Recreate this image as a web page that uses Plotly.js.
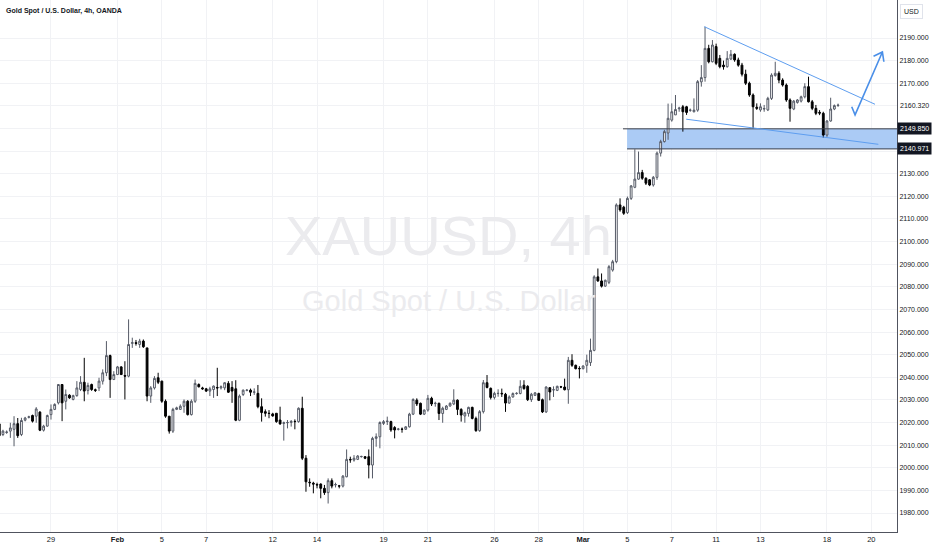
<!DOCTYPE html>
<html>
<head>
<meta charset="utf-8">
<script src="https://cdn.plot.ly/plotly-3.0.1.min.js"></script>
<style>
html,body{margin:0;padding:0;background:#fff;}
#chart{width:932px;height:550px;}
</style>
</head>
<body>
<div id="chart"></div>
<script>
// ---- data: 4h candles, index 4 .. 231 (6 candles per trading day) ----
const firstIndex = 4;
const opens = [
2019.4,2014.7,2015.6,2016.2,2017,2019.5,2014.7,2021,2022.3,2023.1,
2022.8,2024.6,2016.6,2018.4,2023.5,2025.8,2028.7,2036.8,2029.4,2032.1,
2030.2,2031.9,2034.6,2037.8,2034.2,2036.8,2034.5,2035.3,2038.3,2042,
2049.6,2039,2041.2,2044.6,2040.8,2040.5,2055,2055.3,2054.5,2056,
2053,2031.7,2035.3,2039.8,2038.3,2029.4,2022.8,2016.2,2025.8,2025.8,
2027.2,2029.4,2023.5,2029.4,2036.8,2035.3,2034.9,2033.9,2034.6,2035.5,
2035.3,2035.3,2037.3,2035.5,2034.9,2021,2032.4,2034.2,2034.3,2033.4,
2032.9,2027,2024.8,2024.1,2023.8,2024.1,2021.1,2019.6,2019.9,2020,
2020.5,2020.4,2026.3,2004.2,1993.6,1993.2,1992.6,1992.8,1990.9,1989,
1994.3,1992.4,1992,1991.9,1996,2003.7,2003.4,2003.7,2004.9,2004.9,
2004.9,2001.2,2013,2013.7,2019.6,2020.4,2020.4,2017.8,2017,2017.1,
2017,2018.1,2023.7,2029.9,2028.5,2023.7,2025.5,2030.7,2028.4,2028.5,
2024,2025.8,2027.3,2028.2,2029.9,2025.8,2022.9,2024,2026.7,2021.8,
2016.4,2024.8,2037.6,2035.1,2031.1,2032.8,2032.9,2032.5,2028.6,2031.3,
2032.8,2032.8,2036.5,2036,2030.1,2032,2032.8,2030.1,2024.7,2035.4,
2034.4,2034.2,2035.8,2035.7,2034.5,2047.5,2045.3,2043.9,2043.8,2045.3,
2046.5,2051.9,2084.4,2082.6,2080.3,2082,2087.4,2091.1,2116.2,2115.2,
2112.8,2119.1,2124,2127.6,2130.5,2128,2127.3,2125,2128.4,2139.1,
2144.2,2148,2153.7,2156,2158.7,2159.6,2159.6,2158,2157.4,2158.1,
2170.6,2172.5,2185.4,2179.5,2186.2,2181,2178,2177.3,2180.7,2182.8,
2180.3,2178,2174,2170,2164.8,2159.4,2158.2,2158.6,2158.2,2163.3,
2173.4,2174.4,2171.4,2169.2,2162.6,2158.6,2161.5,2162.1,2164,2168.5,
2161.8,2158.9,2157.1,2156.7,2147.1,2153.3,2158.6,2160.1
];
const highs = [
2020,2016.8,2016.5,2019.9,2022.8,2022,2022.1,2022.5,2023,2023.5,
2026.8,2025,2019,2023.5,2028,2028.5,2037,2037,2034.6,2032.5,
2032.3,2038.3,2040.5,2048.6,2037.6,2037.2,2035,2039.8,2043.5,2056,
2050,2042.7,2045,2044.9,2047.1,2065.6,2057.5,2056.5,2057,2056.7,
2053,2036.1,2040.5,2042,2038.5,2030.2,2022.8,2026.5,2027,2028,
2030.2,2029.9,2030.2,2039,2037.3,2035.8,2035.3,2035.8,2036.4,2044.2,
2036.4,2037.8,2038.3,2038.3,2038.7,2032.4,2034.6,2034.8,2035,2035.1,
2036.6,2030.7,2025.8,2025.5,2024.3,2024.1,2027,2020.4,2021.1,2021.1,
2021.4,2026.7,2031.4,2005.6,1995.3,1993.8,1993.4,1993.1,1992.4,1995.3,
1995.3,1993.4,1992.4,1996.8,2008.1,2004.9,2005.6,2005.6,2005.3,2005.2,
2008.1,2013.7,2015.2,2020.5,2021.1,2022.6,2020.8,2018.4,2017.6,2017.8,
2018.4,2024.3,2030.7,2030.7,2028.8,2025.8,2032.2,2031.4,2029.2,2028.8,
2027,2027.7,2028.9,2034.7,2030.2,2026.3,2024.8,2027,2027,2022.6,
2025.5,2038.8,2041,2035.5,2033.6,2034.7,2035,2033.1,2032,2033.3,
2033.4,2038.7,2038.7,2036.5,2033.1,2033.5,2033.2,2030.6,2036,2035.7,
2036,2036.3,2036.2,2039.4,2049,2050.2,2045.6,2044.9,2045.3,2050,
2057.1,2085.1,2088.1,2085.9,2083.2,2089.6,2091.9,2116.9,2119.1,2115.8,
2119.9,2125,2140.8,2139.8,2131.7,2128.4,2127.6,2129,2139.8,2145,
2149.4,2161,2161.1,2164.8,2159.6,2160.4,2160,2158.8,2163.3,2171.4,
2178,2195,2187,2189.1,2187.5,2182.5,2180,2184.2,2184.7,2183.2,
2181.3,2179,2176,2170.7,2165.5,2161.1,2161.1,2160.4,2164,2174.4,
2179.5,2175.3,2172.2,2169.9,2163.3,2162.6,2163,2164.5,2170,2172.9,
2162.6,2160.4,2158.1,2157.4,2153.7,2163.6,2160.6,2161
];
const lows = [
2012.5,2014,2015,2013.2,2009.5,2013.2,2014,2020.5,2021.8,2020,
2019.9,2016.2,2016,2018.2,2021.3,2025.5,2028,2020.6,2025.8,2030.5,
2029.8,2031.4,2033.9,2029.4,2032.4,2034,2033.5,2033.9,2036.8,2040.5,
2030.9,2039,2041,2041,2030.2,2040,2053,2054,2053,2053,
2029.4,2028.7,2034.6,2037,2028.7,2022.1,2015.1,2015.4,2025.5,2025.8,
2024.3,2023.1,2023.1,2028.7,2035.5,2034.5,2033.5,2031.7,2030.9,2031.7,
2034.6,2034.3,2033.1,2028.7,2020.6,2020.6,2031.7,2033.8,2031.7,2032.2,
2026.3,2020.4,2022.6,2021.9,2022.6,2019.9,2019,2012,2017.4,2018.2,
2017,2019.9,2003.4,1989.4,1991.6,1988.7,1990.9,1986.5,1988,1984.2,
1990.9,1991.3,1990.9,1991.3,1995.8,2002.2,2002.7,2003.4,2004.5,2003.8,
1995.3,1995.3,2009.3,2008.6,2018.9,2018.9,2015.9,2013,2016.5,2015.5,
2016.7,2017.8,2023.3,2027.3,2023.3,2023.3,2024.8,2027.3,2027,2021.1,
2019.9,2025.5,2027,2027.7,2023.3,2020.4,2019.9,2022.6,2021.4,2015.9,
2015.9,2024,2035.1,2030.2,2030.2,2031.4,2031.3,2024.7,2028.3,2031,
2032.3,2032.5,2034.5,2029.5,2029.1,2031.7,2029.5,2024.2,2024.2,2029.8,
2031.3,2033.9,2035.2,2034.2,2028.3,2044.6,2043.5,2039.5,2043.5,2042,
2045,2051.5,2082.2,2079.7,2080,2081.2,2086.7,2090.4,2113.2,2111.8,
2112.2,2118.4,2123.6,2127.3,2127.3,2125,2124.5,2124.3,2127.3,2137.6,
2143.8,2145,2153,2156,2157.4,2148.6,2156,2157.4,2157.1,2157.4,
2168.5,2170.7,2178.8,2179.2,2178,2176.6,2176,2176.9,2180.3,2179.5,
2177.3,2173,2169.2,2164,2150,2158.2,2157.4,2157.4,2157.7,2162.6,
2172.9,2170,2168.5,2161.8,2153,2158.1,2161,2161.5,2163.3,2161.5,
2158.1,2155.9,2155.9,2145.9,2146.3,2153,2158.1,2159.6
];
const closes = [
2014.2,2016.2,2015.8,2017.6,2019.5,2014.2,2020.9,2022,2022.5,2020.6,
2026,2016.6,2018.4,2023.1,2025.8,2028,2036.8,2028.7,2032.4,2030.9,
2031.9,2035.3,2037.8,2033.9,2036.4,2034.6,2034.2,2038.3,2042,2049.6,
2039,2041.2,2044.6,2041.2,2040.5,2054.5,2055.3,2055,2056,2053.5,
2031.7,2035.3,2039.5,2037.8,2029.4,2022.8,2016.2,2025.8,2026.5,2027.2,
2029.4,2023.5,2029.4,2037.3,2035.8,2034.9,2033.9,2034.9,2036.1,2035.3,
2035.8,2037.6,2033.4,2033.9,2021,2031.7,2034.3,2034.3,2033.4,2033.5,
2027,2024.4,2024.1,2024,2022.9,2020.4,2019.4,2019.9,2020,2020.5,
2020.4,2026.3,2004.2,1993.8,1993.4,1992.8,1992.4,1990.9,1989,1994.3,
1991.9,1992.6,1991.9,1996.3,2003.7,2003.5,2004.2,2005.2,2005,2004.2,
2001.2,2013,2013.7,2020,2020.4,2020.6,2016.7,2016.7,2017.1,2017,
2018.1,2023.7,2030.2,2028.2,2023.7,2025.5,2030.7,2028.2,2028.5,2024,
2026.3,2027.3,2028.5,2029.9,2025.8,2023.3,2024.3,2026.7,2021.8,2016.4,
2024.8,2037.6,2035.5,2031.1,2032.9,2032.9,2032.7,2028.6,2031.3,2032.8,
2032.9,2036,2035,2030.1,2032.5,2033.1,2029.8,2024.7,2035.7,2033.5,
2034.5,2036,2035.7,2034.5,2047.5,2045.3,2043.8,2043.8,2045,2047.5,
2051.9,2084.4,2082.6,2080.3,2082.9,2088.9,2091.1,2116.2,2114,2112.5,
2119.1,2124.6,2127.6,2130.5,2128,2125.8,2125,2128.4,2139.1,2144.2,
2148.6,2154.5,2157.4,2158.4,2159,2157.4,2157.1,2158.1,2158.1,2170.7,
2172.5,2185.4,2179.5,2186.9,2178.8,2177.3,2177.3,2181,2182.8,2180.3,
2178,2174,2170,2164.8,2159.6,2158.9,2159.6,2158.8,2163.3,2173.6,
2174.4,2171.4,2169.2,2162.6,2158.9,2162.1,2162.6,2164,2168.5,2161.8,
2158.9,2156.7,2156.8,2147.1,2153.3,2158.6,2160.1,2160.3
];

// x-axis day labels (trading-day number counted from Jan 29)
const candlesPerDay = 6;
const jan29Index = 18;
const tickDays   = [0, 3, 5, 7, 10, 12, 15, 17, 20, 22, 24, 26, 28, 30, 32, 35, 37];
const tickLabels = ['29','<b>Feb</b>','5','7','12','14','19','21','26','28','<b>Mar</b>','5','7','11','13','18','20'];

// y-axis price ticks
const priceTicks = [1980,1990,2000,2010,2020,2030,2040,2050,2060,2070,2080,2090,2100,2110,2120,2130,2140,2150,2160,2170,2180,2190];
const hiddenTicks = [2140,2150,2160];

// price levels marked on the axis
const lastPrice = 2160.32;
const zoneTop = 2149.85;
const zoneBottom = 2140.971;

// drawing anchors (candle index, price)
const zoneStartX = 173.9;
const levelStartX = 172.8;
const upperTrend = [[194.8, 2195.0], [241.0, 2160.7]];
const lowerTrend = [[189.9, 2154.1], [241.9, 2143.0]];
const arrowPath  = [[234.7, 2159.6], [235.6, 2156.0], [243.0, 2183.8]];
const arrowHead  = [[240.6, 2181.9], [243.0, 2183.8], [243.4, 2179.5]];

const xRange = [4.2, 246.95];
const yRange = [1971.6, 2206.8];

const xs = opens.map((_, k) => firstIndex + k);

const FONT = '"Liberation Sans", Arial, sans-serif';

const trace = {
  type: 'candlestick',
  x: xs, open: opens, high: highs, low: lows, close: closes,
  increasing: {line: {color: '#555a66', width: 1}, fillcolor: '#ffffff'},
  decreasing: {line: {color: '#000000', width: 1}, fillcolor: '#000000'},
  whiskerwidth: 0,
  hoverinfo: 'none',
  showlegend: false
};

function seg(p0, p1, color, width) {
  return {type: 'line', xref: 'x', yref: 'y', x0: p0[0], y0: p0[1], x1: p1[0], y1: p1[1],
          line: {color: color, width: width}, layer: 'above'};
}
function pathOf(pts) {
  return pts.map((p, k) => (k ? 'L' : 'M') + p[0] + ',' + p[1]).join(' ');
}

const shapes = [
  {type: 'rect', xref: 'x', yref: 'y', x0: zoneStartX, x1: xRange[1], y0: zoneBottom, y1: zoneTop,
   fillcolor: '#abcbf5', line: {width: 0}, layer: 'between'},
  seg([zoneStartX, zoneBottom], [xRange[1], zoneBottom], '#3b3f4a', 1),
  seg([levelStartX, zoneTop], [xRange[1], zoneTop], '#3b3f4a', 1),
  seg(upperTrend[0], upperTrend[1], '#5e9ef0', 1),
  seg(lowerTrend[0], lowerTrend[1], '#5e9ef0', 1),
  {type: 'path', xref: 'x', yref: 'y', path: pathOf(arrowPath), line: {color: '#4a8fe8', width: 1.6}, layer: 'above'},
  {type: 'path', xref: 'x', yref: 'y', path: pathOf(arrowHead), line: {color: '#4a8fe8', width: 1.6}, layer: 'above'}
];

const annotations = [
  {xref: 'paper', yref: 'paper', x: 0.5, y: 0.558, text: 'XAUUSD, 4h', showarrow: false,
   font: {family: FONT, size: 56, color: '#ebebee'}, xanchor: 'center', yanchor: 'middle'},
  {xref: 'paper', yref: 'paper', x: 0.5, y: 0.435, text: 'Gold Spot / U.S. Dollar', showarrow: false,
   font: {family: FONT, size: 29, color: '#ebebee'}, xanchor: 'center', yanchor: 'middle'},
  {xref: 'paper', yref: 'paper', x: 0, y: 1, xshift: 4, yshift: -5, xanchor: 'left', yanchor: 'top',
   text: '<b>Gold Spot / U.S. Dollar, 4h, OANDA</b>', showarrow: false,
   font: {family: FONT, size: 7, color: '#131722'}},
  {xref: 'paper', yref: 'paper', x: 1, y: 1, xshift: 3, yshift: -4, xanchor: 'left', yanchor: 'top',
   text: 'USD', showarrow: false, bordercolor: '#e0e3eb', borderwidth: 1, borderpad: 3,
   font: {family: FONT, size: 7, color: '#131722'}},
  {xref: 'paper', yref: 'y', x: 1, y: lastPrice, xanchor: 'left', yanchor: 'middle', xshift: 1,
   text: lastPrice.toFixed(3), showarrow: false, bgcolor: '#ffffff', borderpad: 1,
   font: {family: FONT, size: 7, color: '#131722'}},
  {xref: 'paper', yref: 'y', x: 1, y: zoneTop, xanchor: 'left', yanchor: 'middle', xshift: 0,
   text: zoneTop.toFixed(3), showarrow: false, bgcolor: '#131722', borderpad: 2,
   font: {family: FONT, size: 7, color: '#ffffff'}},
  {xref: 'paper', yref: 'y', x: 1, y: zoneBottom, xanchor: 'left', yanchor: 'middle', xshift: 0,
   text: zoneBottom.toFixed(3), showarrow: false, bgcolor: '#131722', borderpad: 2,
   font: {family: FONT, size: 7, color: '#ffffff'}}
];

const layout = {
  width: 932, height: 550,
  margin: {l: 0, r: 35, t: 0, b: 18, pad: 0},
  paper_bgcolor: '#ffffff', plot_bgcolor: '#ffffff',
  font: {family: FONT, size: 7, color: '#131722'},
  showlegend: false,
  xaxis: {
    range: xRange, fixedrange: true, rangeslider: {visible: false},
    tickmode: 'array', tickvals: tickDays.map(d => jan29Index + d * candlesPerDay), ticktext: tickLabels,
    showgrid: true, gridcolor: '#f1f2f5', gridwidth: 1, zeroline: false,
    showline: true, linecolor: '#50535e', linewidth: 1, ticks: '',
    tickfont: {family: FONT, size: 7.5, color: '#131722'}
  },
  yaxis: {
    side: 'right', range: yRange, fixedrange: true,
    tickmode: 'array', tickvals: priceTicks,
    ticktext: priceTicks.map(v => hiddenTicks.includes(v) ? '' : v.toFixed(3)),
    showgrid: true, gridcolor: '#f1f2f5', gridwidth: 1, zeroline: false,
    showline: true, linecolor: '#50535e', linewidth: 1, ticks: '',
    tickfont: {family: FONT, size: 7, color: '#131722'}
  },
  shapes: shapes,
  annotations: annotations
};

Plotly.newPlot('chart', [trace], layout, {staticPlot: true, displayModeBar: false});
</script>
</body>
</html>
